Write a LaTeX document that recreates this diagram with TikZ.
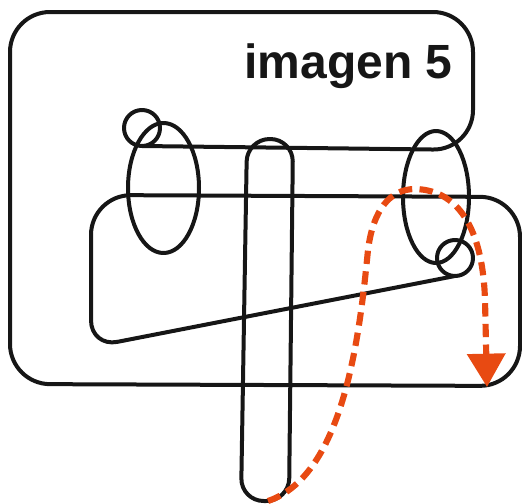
\documentclass[tikz,border=0pt]{standalone}
\usepackage{fontspec}
\setmainfont{Liberation Sans}
\usetikzlibrary{arrows.meta}

\tikzset{every picture/.style={line width=0.75pt}}
\tikzset{
  knot/.style={color={rgb, 255:red, 22; green, 22; blue, 22 }, line width=3pt, line join=round},
  move/.style={color={rgb, 255:red, 232; green, 74; blue, 18 }, line width=4.6pt, dash pattern=on 10pt off 5.5pt, -{Triangle[length=25pt,width=28pt]}}
}

\begin{document}
\begin{tikzpicture}[x=0.75pt,y=0.75pt,yscale=-1,xscale=1]
\useasboundingbox (0,0) rectangle (522,504); %set diagram to 522 x 504

%Shape: Circle [id:loopA] 
\draw [knot] (142,128) circle [radius=18];
%Shape: Circle [id:loopB] 
\draw [knot] (455,258) circle [radius=18];
%Shape: Ellipse [id:ringL] 
\draw [knot] (163.5,188) ellipse [x radius=35.5, y radius=65];
%Shape: Ellipse [id:ringR] 
\draw [knot] (436,197) ellipse [x radius=33, y radius=66];
%Shape: Pill [id:bar] 
\draw [knot] [rounded corners=17pt] (241,501) -- (247,139) -- (293,139) -- (289,501) -- cycle;
%Straight Lines [id:band] 
\draw [knot] [rounded corners=30pt] (142,146) -- (473,150) -- (473,12) -- (10,12) -- (10,384) -- (520,386) -- (520,197) -- (91,195) [rounded corners=20pt] -- (91,347) -- (455,276);

% Red move
\coordinate (pillbot) at (268,501);
\coordinate (tip) at (487,387);
\draw [move] (pillbot) .. controls (345,475) and (360,330) .. (368,250) .. controls (373,210) and (390,189) .. (415,189) .. controls (462,190) and (483,235) .. (485,300) -- (tip);

% Text Node
\node (title) [anchor=base east][inner sep=0pt] [font=\bfseries\fontsize{36}{43}\selectfont, color={rgb, 255:red, 22; green, 22; blue, 22 }] at (453,78) {imagen 5};

\end{tikzpicture}
\end{document}
